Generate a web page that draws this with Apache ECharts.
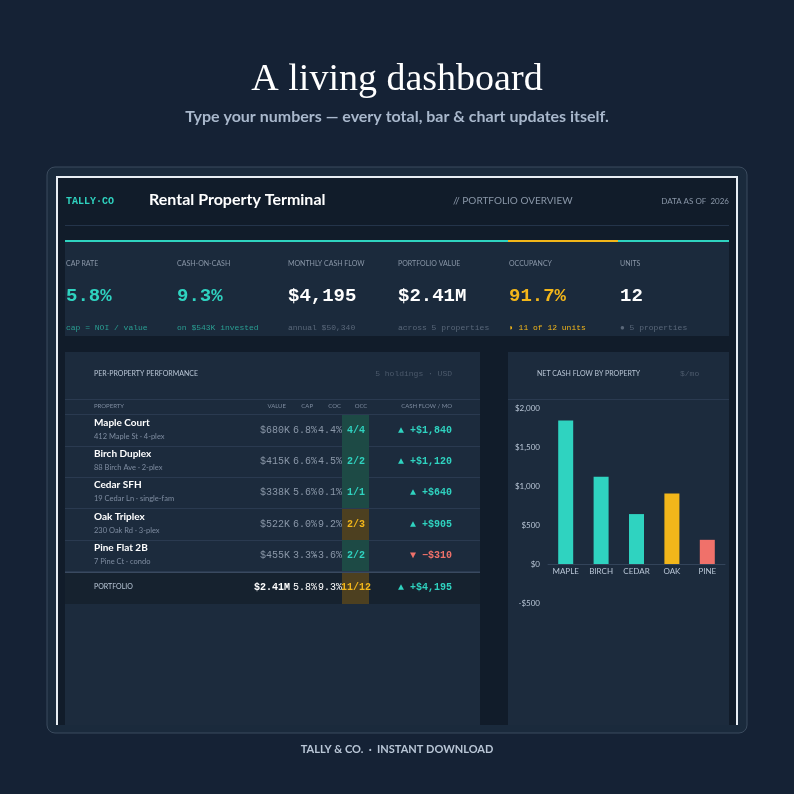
<!DOCTYPE html>
<html><head><meta charset="utf-8">
<script src="https://cdn.jsdelivr.net/npm/echarts@6/dist/echarts.min.js"></script>
<style>html,body{margin:0;padding:0;background:#152235;}#chart{width:794px;height:794px;}</style>
</head><body><div id="chart"></div>
<script>
var kpiLabels = ['CAP RATE', 'CASH-ON-CASH', 'MONTHLY CASH FLOW', 'PORTFOLIO VALUE', 'OCCUPANCY', 'UNITS'];
var kpiValues = ['5.8%', '9.3%', '$4,195', '$2.41M', '91.7%', '12'];
var kpiSubs = ['cap = NOI / value', 'on $543K invested', 'annual $50,340', 'across 5 properties', '◗ 11 of 12 units', '● 5 properties'];
var kpiColors = ['#2fd3c0', '#2fd3c0', '#ffffff', '#ffffff', '#f2b61a', '#ffffff'];

var names = ['Maple Court', 'Birch Duplex', 'Cedar SFH', 'Oak Triplex', 'Pine Flat 2B'];
var addrs = ['412 Maple St · 4-plex', '88 Birch Ave · 2-plex', '19 Cedar Ln · single-fam', '230 Oak Rd · 3-plex', '7 Pine Ct · condo'];
var values = ['$680K', '$415K', '$338K', '$522K', '$455K'];
var caps = ['6.8%', '6.6%', '5.6%', '6.0%', '3.3%'];
var cocs = ['4.4%', '4.5%', '0.1%', '9.2%', '-3.6%'];
var occ = ['4/4', '2/2', '1/1', '2/3', '2/2'];
var flows = ['▲ +$1,840', '▲ +$1,120', '▲ +$640', '▲ +$905', '▼ −$310'];

var categories = ['MAPLE', 'BIRCH', 'CEDAR', 'OAK', 'PINE'];
var barValues = [1840, 1120, 640, 905, 310];
var barColors = ['#2fd3c0', '#2fd3c0', '#2fd3c0', '#f2b61a', '#f0716a'];

var chart = echarts.init(document.getElementById('chart'));
var sans = 'Lato, "Noto Sans", sans-serif';
var mono = '"Liberation Mono", "DejaVu Sans Mono", monospace';
var g = [];

function rect(x, y, w, h, fill, extra) {
    var o = { type: 'rect', shape: { x: x, y: y, width: w, height: h }, style: { fill: fill }, silent: true };
    if (extra) { Object.assign(o.style, extra.style || {}); if (extra.r) o.shape.r = extra.r; }
    g.push(o);
}
function text(x, y, t, size, color, opt) {
    opt = opt || {};
    g.push({ type: 'text', x: x, y: y, silent: true, style: {
        text: t, fontSize: size, fill: color, fontFamily: opt.font || sans,
        fontWeight: opt.weight || 'normal', align: opt.align || 'left', verticalAlign: 'middle'
    } });
}

// page titles
text(397, 80, 'A living dashboard', 38, '#ffffff', { align: 'center', font: '"Liberation Serif", "DejaVu Serif", serif' });
text(397, 117, 'Type your numbers — every total, bar & chart updates itself.', 16, '#a9b8cc', { align: 'center', weight: 'bold' });
text(397, 749, 'TALLY & CO.  ·  INSTANT DOWNLOAD', 11, '#b9c6d6', { align: 'center', weight: 'bold' });

// frames
rect(47, 167, 700, 566, '#1a2a3c', { r: 8, style: { stroke: '#3b4b5e', lineWidth: 1 } });
rect(57, 177, 680, 548, '#111c2a');
g.push({ type: 'polyline', silent: true, shape: { points: [[57, 725], [57, 177], [737, 177], [737, 725]] },
    style: { stroke: '#e8eef4', lineWidth: 2, fill: null } });

// header
text(66, 201, 'TALLY·CO', 10, '#2fd3c0', { font: mono, weight: 'bold' });
text(149, 200, 'Rental Property Terminal', 16, '#ffffff', { weight: 'bold' });
text(453, 201, '// PORTFOLIO OVERVIEW', 10, '#8a97a8');
text(729, 201, 'DATA AS OF  2026', 8, '#8a97a8', { align: 'right' });
rect(65, 225, 664, 1, '#24344a');

// KPI strip
rect(65, 242, 664, 94, '#1b2a3c');
rect(65, 240, 664, 2, '#2fd3c0');
rect(508, 240, 110, 2, '#f2b61a');
var kx = [66, 177, 288, 398, 509, 620];
for (var i = 0; i < 6; i++) {
    text(kx[i], 264, kpiLabels[i], 7, '#8a97a8');
    text(kx[i], 296, kpiValues[i], 19, kpiColors[i], { font: mono, weight: 'bold' });
    text(kx[i], 328, kpiSubs[i], 8, i === 4 ? '#f2b61a' : (i < 2 ? '#2a9e92' : '#596779'), { font: mono });
}

// left panel
rect(65, 352, 415, 373, '#1c2b3d');
text(94, 374, 'PER-PROPERTY PERFORMANCE', 7, '#b9c6d6');
text(452, 374, '5 holdings · USD', 8, '#4c5a6c', { font: mono, align: 'right' });
rect(65, 399, 415, 1, '#2a3a50');
text(94, 406, 'PROPERTY', 6, '#7e8ca0');
text(286, 406, 'VALUE', 6, '#7e8ca0', { align: 'right' });
text(313, 406, 'CAP', 6, '#7e8ca0', { align: 'right' });
text(341, 406, 'COC', 6, '#7e8ca0', { align: 'right' });
text(361, 406, 'OCC', 6, '#7e8ca0', { align: 'center' });
text(452, 406, 'CASH FLOW / MO', 6, '#7e8ca0', { align: 'right' });
rect(65, 414, 415, 1, '#2a3a50');
var rowTop = [415, 446, 477, 509, 540];
for (var r = 0; r < 5; r++) {
    var y = rowTop[r];
    rect(342, y, 27, 31, r === 3 ? '#4d4020' : '#1d4a45');
    text(94, y + 8, names[r], 10, '#ffffff', { weight: 'bold' });
    text(94, y + 22, addrs[r], 7.5, '#7e8ca0');
    text(290, y + 15, values[r], 10, '#8a97a8', { font: mono, align: 'right' });
    text(317, y + 15, caps[r], 10, '#8a97a8', { font: mono, align: 'right' });
    text(342, y + 15, cocs[r], 10, '#8a97a8', { font: mono, align: 'right' });
    text(356, y + 15, occ[r], 10, r === 3 ? '#f2b61a' : '#2fd3c0', { font: mono, align: 'center', weight: 'bold' });
    text(452, y + 15, flows[r], 10, r === 4 ? '#f0716a' : '#2fd3c0', { font: mono, align: 'right', weight: 'bold' });
    rect(65, y + 31, 415, 1, '#2a3a50');
}
rect(65, 573, 415, 31, '#16222f');
rect(342, 573, 27, 31, '#4d4020');
rect(65, 572, 415, 1, '#3a4a60');
text(94, 587, 'PORTFOLIO', 7, '#b9c6d6');
text(290, 587, '$2.41M', 10, '#ffffff', { font: mono, align: 'right', weight: 'bold' });
text(317, 587, '5.8%', 10, '#ffffff', { font: mono, align: 'right' });
text(342, 587, '9.3%', 10, '#ffffff', { font: mono, align: 'right' });
text(356, 587, '11/12', 10, '#f2b61a', { font: mono, align: 'center', weight: 'bold' });
text(452, 587, '▲ +$4,195', 10, '#2fd3c0', { font: mono, align: 'right', weight: 'bold' });

// right panel
rect(508, 352, 221, 373, '#1c2b3d');
text(537, 374, 'NET CASH FLOW BY PROPERTY', 7, '#b9c6d6');
text(680, 374, '$/mo', 8, '#4c5a6c', { font: mono });
rect(508, 399, 221, 1, '#2a3a50');

var option = {
    backgroundColor: '#152235',
    graphic: { elements: g },
    grid: { left: 548, right: 69, top: 408, bottom: 191 },
    xAxis: {
        type: 'category',
        data: categories,
        axisLine: { onZero: true, lineStyle: { color: '#33445a' } },
        axisTick: { show: false },
        axisLabel: { show: false }
    },
    yAxis: {
        type: 'value', min: -500, max: 2000, interval: 500,
        splitLine: { show: false },
        axisLabel: {
            color: '#b9c6d6', fontSize: 8, fontFamily: sans,
            formatter: function (v) { return (v < 0 ? '-$' : '$') + Math.abs(v).toLocaleString('en-US'); }
        }
    },
    series: [{
        type: 'bar',
        barWidth: 15,
        data: barValues.map(function (v, i) { return { value: v, itemStyle: { color: barColors[i] } }; })
    }, {
        // category names sitting on the zero line
        type: 'bar',
        barWidth: 15,
        barGap: '-100%',
        silent: true,
        data: categories.map(function () { return 0; }),
        label: { show: true, position: 'bottom', distance: 3, formatter: '{b}', color: '#b9c6d6', fontSize: 8, fontFamily: sans }
    }]
};
chart.setOption(option);
window.addEventListener('resize', function () { chart.resize(); });
</script>
</body></html>
